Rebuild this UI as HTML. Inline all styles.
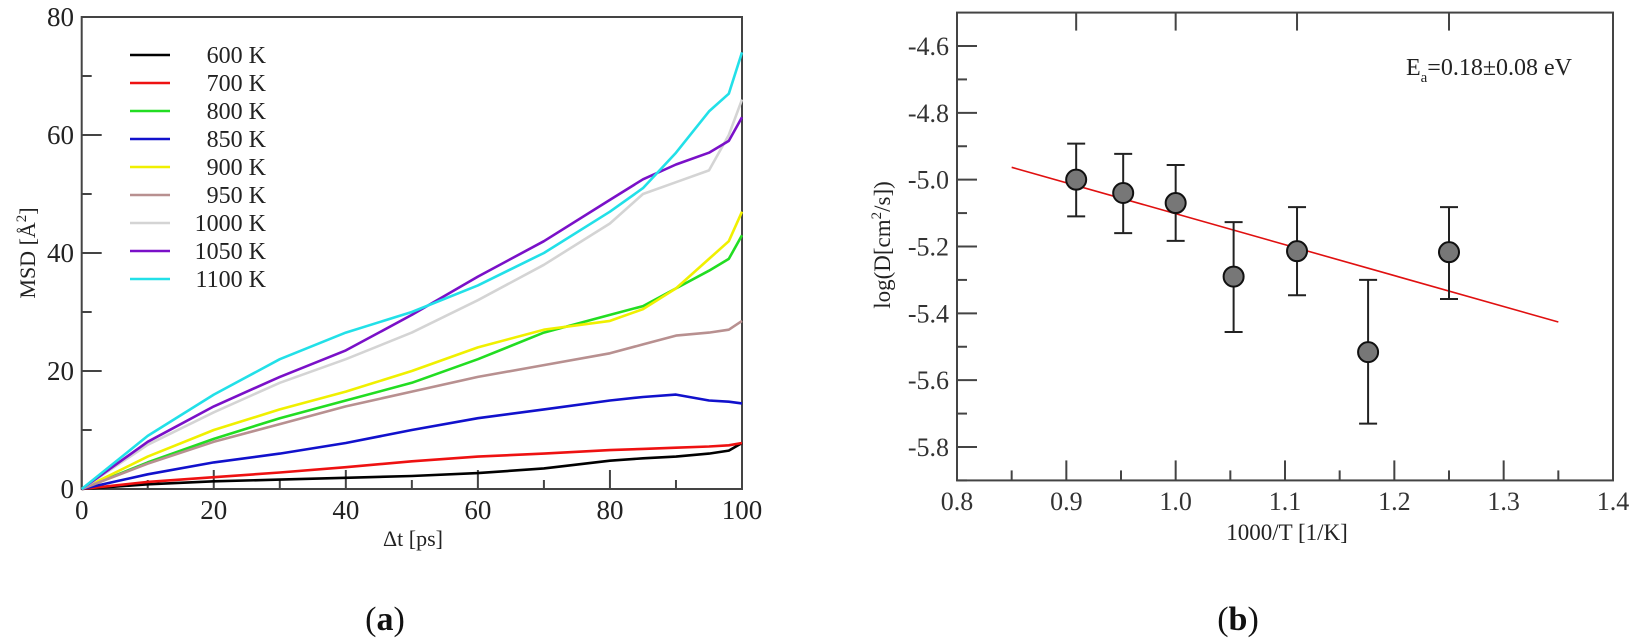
<!DOCTYPE html>
<html><head><meta charset="utf-8"><style>
body{margin:0;background:#fff;}
svg{display:block;font-family:"Liberation Serif",serif;}
</style></head><body>
<svg id="c" width="1636" height="643" viewBox="0 0 1636 643">
<g id="pa"></g>
<g id="pb"></g>
</svg>
<script>
// ---- Panel (a) data ----
const tVals = [0,10,20,30,40,50,60,70,80,85,90,95,98,100];
const seriesNames = ["600 K","700 K","800 K","850 K","900 K","950 K","1000 K","1050 K","1100 K"];
const seriesColors = ["#000000","#ee1111","#22dd22","#1111cc","#f0f000","#b89090","#d4d4d4","#7a10c8","#22e0e8"];
const s600  = [0,0.8,1.3,1.6,1.9,2.2,2.7,3.5,4.8,5.2,5.5,6,6.5,7.8];
const s700  = [0,1.2,2,2.8,3.7,4.7,5.5,6,6.6,6.8,7,7.2,7.4,7.8];
const s800  = [0,4.5,8.5,12,15,18,22,26.5,29.5,31,34,37,39,43];
const s850  = [0,2.5,4.5,6,7.8,10,12,13.5,15,15.6,16,15,14.8,14.5];
const s900  = [0,5.5,10,13.5,16.5,20,24,27,28.5,30.5,34,39,42,47];
const s950  = [0,4.3,8,11,14,16.5,19,21,23,24.5,26,26.5,27,28.5];
const s1000 = [0,7.5,13,18,22,26.5,32,38,45,50,52,54,60,66];
const s1050 = [0,8,14,19,23.5,29.5,36,42,49,52.5,55,57,59,63];
const s1100 = [0,9,16,22,26.5,30,34.5,40,47,51,57,64,67,74];
const allSeries = [s600,s700,s800,s850,s900,s950,s1000,s1050,s1100];
const aXTicks = [0,20,40,60,80,100];
const aYTicks = [0,20,40,60,80];

// ---- Panel (b) data ----
const invT = [0.909,0.952,1.0,1.053,1.111,1.176,1.25];
const logD = [-5.00,-5.04,-5.07,-5.29,-5.214,-5.516,-5.217];
const errUp = [-4.892,-4.923,-4.956,-5.127,-5.082,-5.30,-5.082];
const errDn = [-5.11,-5.16,-5.183,-5.456,-5.346,-5.73,-5.357];
const fitX = [0.85,1.35];
const fitY = [-4.963,-5.426];
const bXTicks = ["0.8","0.9","1.0","1.1","1.2","1.3","1.4"];
const bYTicks = ["-4.6","-4.8","-5.0","-5.2","-5.4","-5.6","-5.8"];
const topTicks = [0.909,1.0,1.111,1.25];

const NS="http://www.w3.org/2000/svg";
function mk(parent,tag,attrs,text){const e=document.createElementNS(NS,tag);for(const k in attrs)e.setAttribute(k,attrs[k]);if(text!==undefined)e.textContent=text;parent.appendChild(e);return e;}

// ---- Panel (a) ----
const pa=document.getElementById('pa');
const ax=v=>81.7+(v/100)*(742-81.7);
const ay=v=>489-(v/80)*(489-17);
let e;
e=mk(pa,'rect',{x:81.7,y:17,width:742-81.7,height:472,fill:'none',stroke:'#444','stroke-width':2});


for(let v=0;v<=100;v+=10){const maj=v%20===0;e=mk(pa,'line',{x1:ax(v),x2:ax(v),y1:489,y2:489-(maj?19:9),stroke:'#444','stroke-width':2});

}
for(let v=0;v<=80;v+=10){const maj=v%20===0;e=mk(pa,'line',{x1:81.7,x2:81.7+(maj?20:10),y1:ay(v),y2:ay(v),stroke:'#444','stroke-width':2});

}
aXTicks.forEach(v=>{e=mk(pa,'text',{x:ax(v),y:519,'text-anchor':'middle','font-size':27,fill:'#222'},String(v));

});
aYTicks.forEach(v=>{e=mk(pa,'text',{x:74,y:ay(v)+9,'text-anchor':'end','font-size':27,fill:'#222'},String(v));

});
e=mk(pa,'text',{x:413,y:546,'text-anchor':'middle','font-size':22,fill:'#222'},'Δt [ps]');


e=mk(pa,'text',{transform:'translate(35,253) rotate(-90)','text-anchor':'middle','font-size':22,fill:'#222'});
e.innerHTML='MSD [Å<tspan dy="-9" font-size="15">2</tspan><tspan dy="9">]</tspan>';


allSeries.forEach((s,i)=>{const pts=s.map((v,j)=>ax(tVals[j]).toFixed(1)+','+ay(v).toFixed(1)).join(' ');
e=mk(pa,'polyline',{points:pts,fill:'none',stroke:seriesColors[i],'stroke-width':2.6,'stroke-linejoin':'round'});

});
seriesNames.forEach((n,i)=>{const y=55+i*28;
e=mk(pa,'line',{x1:130,x2:170,y1:y,y2:y,stroke:seriesColors[i],'stroke-width':2.6});


e=mk(pa,'text',{x:266,y:y+8,'text-anchor':'end','font-size':24,fill:'#222'},n);

});
e=mk(pa,'text',{x:385,y:630,'text-anchor':'middle','font-size':34,fill:'#111'});
e.innerHTML='(<tspan font-weight="bold">a</tspan>)';



// ---- Panel (b) ----
const pb=document.getElementById('pb');
const bx=v=>957+(v-0.8)/0.6*(1613-957);
const by=v=>46+(-4.6-v)/1.2*(447-46);
e=mk(pb,'rect',{x:957,y:by(-4.5),width:1613-957,height:by(-5.9)-by(-4.5),fill:'none',stroke:'#444','stroke-width':2});


for(let k=0;k<=12;k++){const v=0.8+k*0.05;const maj=k%2===0;
e=mk(pb,'line',{x1:bx(v),x2:bx(v),y1:by(-5.9),y2:by(-5.9)-(maj?20:10),stroke:'#444','stroke-width':2});

}
for(let k=0;k<=13;k++){const v=-4.6-k*0.1;const maj=k%2===0;
e=mk(pb,'line',{x1:957,x2:957+(maj?20:10),y1:by(v),y2:by(v),stroke:'#444','stroke-width':2});

}
topTicks.forEach(v=>{e=mk(pb,'line',{x1:bx(v),x2:bx(v),y1:by(-4.5),y2:by(-4.5)+18,stroke:'#444','stroke-width':2});

});
bXTicks.forEach(t=>{e=mk(pb,'text',{x:bx(+t),y:510,'text-anchor':'middle','font-size':26,fill:'#333'},t);

});
bYTicks.forEach(t=>{e=mk(pb,'text',{x:949,y:by(+t)+9,'text-anchor':'end','font-size':26,fill:'#333'},t);

});
e=mk(pb,'text',{x:1287,y:540,'text-anchor':'middle','font-size':23,fill:'#222'},'1000/T [1/K]');


e=mk(pb,'text',{transform:'translate(890,245) rotate(-90)','text-anchor':'middle','font-size':23,fill:'#222'});
e.innerHTML='log(D[cm<tspan dy="-9" font-size="15">2</tspan><tspan dy="9">/s])</tspan>';


e=mk(pb,'line',{x1:bx(fitX[0]),y1:by(fitY[0]),x2:bx(fitX[1]),y2:by(fitY[1]),stroke:'#e01010','stroke-width':1.6});


invT.forEach((v,i)=>{const x=bx(v);
const g=mk(pb,'g',{});


mk(g,'line',{x1:x,x2:x,y1:by(errUp[i]),y2:by(errDn[i]),stroke:'#222','stroke-width':2});
mk(g,'line',{x1:x-9,x2:x+9,y1:by(errUp[i]),y2:by(errUp[i]),stroke:'#222','stroke-width':2});
mk(g,'line',{x1:x-9,x2:x+9,y1:by(errDn[i]),y2:by(errDn[i]),stroke:'#222','stroke-width':2});
mk(g,'circle',{cx:x,cy:by(logD[i]),r:10,fill:'#777','stroke':'#111','stroke-width':2});});
e=mk(pb,'text',{x:1572,y:75,'text-anchor':'end','font-size':24,fill:'#222'});
e.innerHTML='E<tspan dy="7" font-size="15">a</tspan><tspan dy="-7">=0.18±0.08 eV</tspan>';


e=mk(pb,'text',{x:1238,y:630,'text-anchor':'middle','font-size':34,fill:'#111'});
e.innerHTML='(<tspan font-weight="bold">b</tspan>)';


</script>
</body></html>
